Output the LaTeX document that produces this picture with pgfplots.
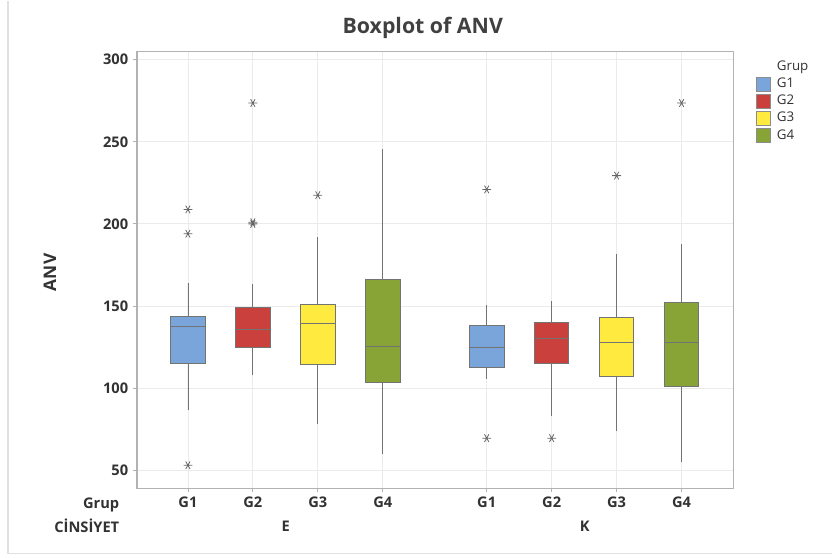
\documentclass[border=0pt]{standalone}
\usepackage{fontspec}
\setmainfont{Open Sans}
\usepackage{pgfplots}
\pgfplotsset{compat=1.18}
\usepgfplotslibrary{statistics}
\definecolor{g1}{RGB}{122,165,218}
\definecolor{g2}{RGB}{202,64,60}
\definecolor{g3}{RGB}{255,234,64}
\definecolor{g4}{RGB}{136,164,54}
\definecolor{txt}{RGB}{50,50,50}
\begin{document}
\begin{tikzpicture}
\begin{axis}[
  scale only axis, width=447.75pt, height=327.75pt,
  xmin=0.215, xmax=9.4, ymin=39, ymax=305,
  xtick={1,2,3,4,5.6,6.6,7.6,8.6},
  xticklabels={G1,G2,G3,G4,G1,G2,G3,G4},
  ytick={50,100,150,200,250,300},
  xtick pos=bottom, ytick pos=left,
  grid=major, grid style={black!8, line width=0.6pt},
  axis line style={black!30, line width=1pt},
  tick style={black!30, line width=0.6pt},
  tick align=outside, major tick length=3pt,
  ticklabel style={font=\fontsize{11}{13}\selectfont\bfseries, text=txt},
  /pgf/number format/assume math mode=true,
  boxplot/draw direction=y,
  boxplot/box extend=0.53,
  boxplot/whisker extend=0,
  mybox/.style={fill=#1, draw=black!55, line width=0.6pt, mark=asterisk, mark size=3.3pt, mark options={draw=black!60, fill=none, line width=0.6pt, rotate=90}},
  legend style={at={(1.03,0.99)}, anchor=north west, draw=none, fill=none,
    font=\fontsize{10}{12}\selectfont, text=txt,
    nodes={text height=7.5pt, text depth=2pt, inner sep=1.5pt}, row sep=0.3pt,
    /tikz/every odd column/.append style={column sep=3pt}},
  legend cell align=left,
]
% E group
\addplot[forget plot, mybox=g1, boxplot prepared={draw position=1, lower whisker=86.5, lower quartile=115, median=137.6, upper quartile=143.7, upper whisker=164}] coordinates {(0,208.8)(0,194)(0,53)};
\addplot[forget plot, mybox=g2, boxplot prepared={draw position=2, lower whisker=107.8, lower quartile=124.6, median=135.8, upper quartile=149.3, upper whisker=163.3}] coordinates {(0,273.6)(0,201)(0,200)};
\addplot[forget plot, mybox=g3, boxplot prepared={draw position=3, lower whisker=78, lower quartile=114.3, median=139.2, upper quartile=150.8, upper whisker=191.9}] coordinates {(0,217.5)};
\addplot[forget plot, mybox=g4, boxplot prepared={draw position=4, lower whisker=59.7, lower quartile=103.3, median=125.4, upper quartile=166.4, upper whisker=245.7}] coordinates {};
% K group
\addplot[forget plot, mybox=g1, boxplot prepared={draw position=5.6, lower whisker=105.8, lower quartile=112.7, median=124.8, upper quartile=138.2, upper whisker=150.4}] coordinates {(0,221)(0,69.5)};
\addplot[forget plot, mybox=g2, boxplot prepared={draw position=6.6, lower whisker=82.7, lower quartile=115.1, median=130.1, upper quartile=139.8, upper whisker=153}] coordinates {(0,69.5)};
\addplot[forget plot, mybox=g3, boxplot prepared={draw position=7.6, lower whisker=73.7, lower quartile=107.4, median=128, upper quartile=142.9, upper whisker=181.8}] coordinates {(0,229.4)};
\addplot[forget plot, mybox=g4, boxplot prepared={draw position=8.6, lower whisker=54.7, lower quartile=100.9, median=128, upper quartile=152.2, upper whisker=187.5}] coordinates {(0,273.6)};
% legend
\addlegendimage{empty legend}\addlegendentry{Grup}
\addlegendimage{legend image code/.code={\draw[fill=g1,draw=black!45] (0pt,-5pt) rectangle (11pt,5.5pt);}}\addlegendentry{G1}
\addlegendimage{legend image code/.code={\draw[fill=g2,draw=black!45] (0pt,-5pt) rectangle (11pt,5.5pt);}}\addlegendentry{G2}
\addlegendimage{legend image code/.code={\draw[fill=g3,draw=black!45] (0pt,-5pt) rectangle (11pt,5.5pt);}}\addlegendentry{G3}
\addlegendimage{legend image code/.code={\draw[fill=g4,draw=black!45] (0pt,-5pt) rectangle (11pt,5.5pt);}}\addlegendentry{G4}
\end{axis}
\begin{scope}[x=0.75pt, y=0.75pt]
  \path (-137,-69) rectangle (696,488);
  \draw[black!12, line width=0.8pt] (-129,488) -- (-129,-65) -- (696,-65);
  \node[font=\fontsize{16}{19}\selectfont\bfseries, text=black!75] at (286,461) {Boxplot of ANV};
  \node[font=\fontsize{13}{15}\selectfont\bfseries, text=txt, rotate=90] at (-87,216) {ANV};
  \node[font=\fontsize{11}{13}\selectfont\bfseries, text=txt, anchor=east] at (-13,-17) {Grup};
  \node[font=\fontsize{11}{13}\selectfont\bfseries, text=txt, anchor=east] at (-13,-38) {CİNSİYET};
  \node[font=\fontsize{11}{13}\selectfont\bfseries, text=txt] at (149,-38) {E};
  \node[font=\fontsize{11}{13}\selectfont\bfseries, text=txt] at (448,-38) {K};
\end{scope}
\end{tikzpicture}
\end{document}
